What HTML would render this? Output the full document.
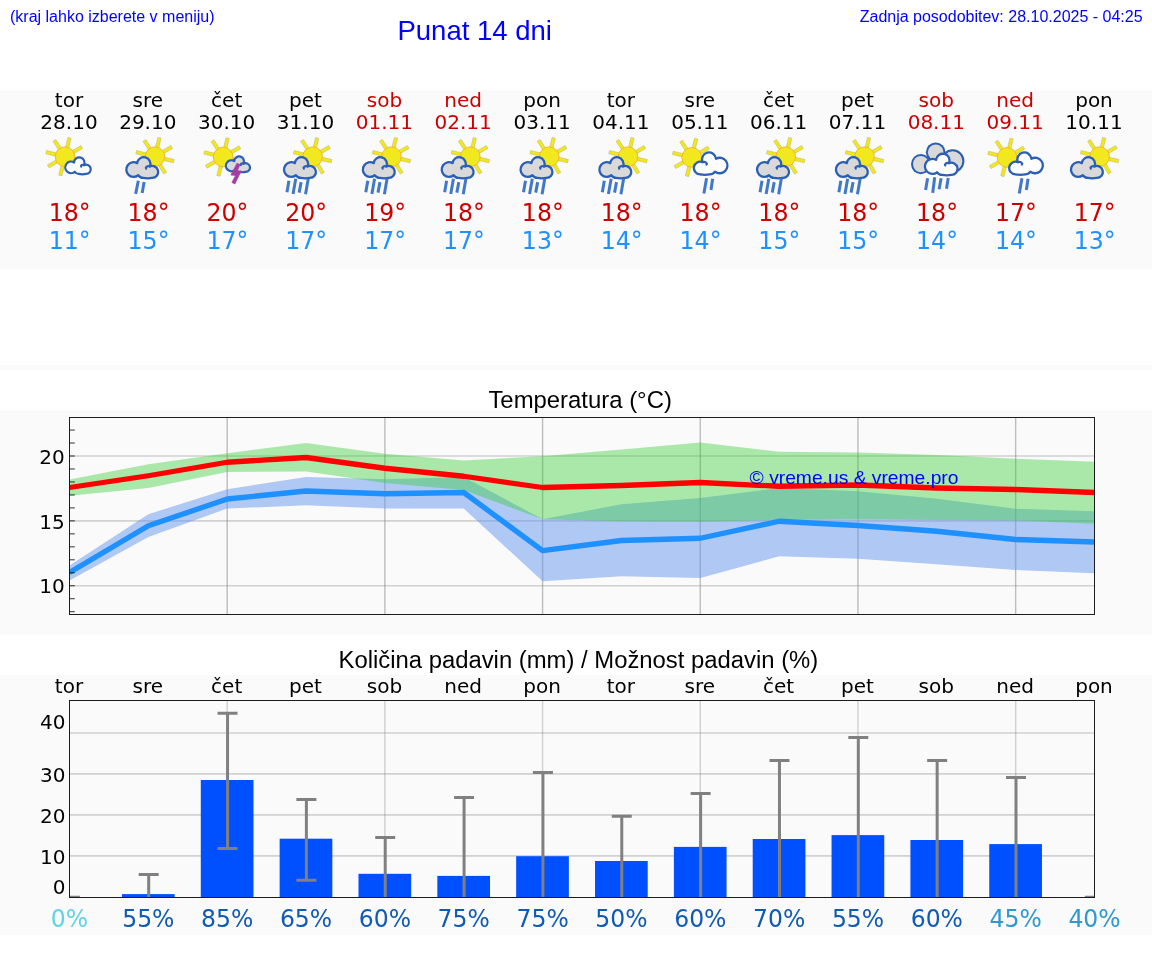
<!DOCTYPE html>
<html lang="sl"><head><meta charset="utf-8"><title>Punat 14 dni</title>
<style>
html,body{margin:0;padding:0;background:#fff;}
body{width:1152px;height:975px;overflow:hidden;}
svg{display:block;}
.dj{font-family:"DejaVu Sans","Liberation Sans",sans-serif;}
.lb{font-family:"Liberation Sans","DejaVu Sans",sans-serif;}
.m{text-anchor:middle;}
.e{text-anchor:end;}
</style></head><body>
<svg width="1152" height="975" viewBox="0 0 1152 975">
<defs>
<g id="sun"><rect x="9" y="-1.7" width="10.4" height="3.4" fill="#f1e81d" stroke="#a8a060" stroke-opacity="0.5" stroke-width="0.7" transform="rotate(-30)"/><rect x="9" y="-1.7" width="10.4" height="3.4" fill="#f1e81d" stroke="#a8a060" stroke-opacity="0.5" stroke-width="0.7" transform="rotate(13.3)"/><rect x="9" y="-1.7" width="10.4" height="3.4" fill="#f1e81d" stroke="#a8a060" stroke-opacity="0.5" stroke-width="0.7" transform="rotate(58.3)"/><rect x="9" y="-1.7" width="10.4" height="3.4" fill="#f1e81d" stroke="#a8a060" stroke-opacity="0.5" stroke-width="0.7" transform="rotate(104)"/><rect x="9" y="-1.7" width="10.4" height="3.4" fill="#f1e81d" stroke="#a8a060" stroke-opacity="0.5" stroke-width="0.7" transform="rotate(150)"/><rect x="9" y="-1.7" width="10.4" height="3.4" fill="#f1e81d" stroke="#a8a060" stroke-opacity="0.5" stroke-width="0.7" transform="rotate(-166.5)"/><rect x="9" y="-1.7" width="10.4" height="3.4" fill="#f1e81d" stroke="#a8a060" stroke-opacity="0.5" stroke-width="0.7" transform="rotate(-123)"/><rect x="9" y="-1.7" width="10.4" height="3.4" fill="#f1e81d" stroke="#a8a060" stroke-opacity="0.5" stroke-width="0.7" transform="rotate(-76.5)"/><circle r="9.8" fill="#f1e81d" stroke="#f7b02c" stroke-width="0.9"/></g>
<g id="cgB"><g transform="scale(1.0)"><path d="M13.02 19.26 A7.31 7.31 0 1 1 12.01 7.15 A6.64 6.64 0 1 1 24.70 10.45 A5.96 5.96 0 1 1 27.08 21.87 Q22.51 22.77 17.94 21.87 A5.96 5.96 0 0 1 13.02 19.26Z" fill="#d9d9d9" stroke="#2b5fb3" stroke-width="2.30" stroke-linejoin="round"/><path d="M24.70 10.45 Q22.2 9.4 20.7 11.7 L21.0 12.7" fill="none" stroke="#2b5fb3" stroke-width="2.18" stroke-linecap="round" stroke-linejoin="round"/></g></g>
<g id="cwBm"><g transform="translate(35.91,0) scale(-1.05,1.05)"><path d="M13.00 19.34 A7.37 7.37 0 1 1 11.97 7.06 A6.69 6.69 0 1 1 24.80 10.35 A6.01 6.01 0 1 1 27.08 21.92 Q22.51 22.82 17.94 21.92 A6.01 6.01 0 0 1 13.00 19.34Z" fill="#fdfdfd" stroke="#2b5fb3" stroke-width="2.19" stroke-linejoin="round"/><path d="M24.80 10.35 Q22.2 9.4 20.7 11.7 L21.0 12.7" fill="none" stroke="#2b5fb3" stroke-width="2.08" stroke-linecap="round" stroke-linejoin="round"/></g></g>
<g id="cwS"><g transform="scale(0.81)"><path d="M13.06 18.96 A7.11 7.11 0 1 1 12.20 7.50 A6.43 6.43 0 1 1 24.23 10.91 A5.75 5.75 0 1 1 27.08 21.66 Q22.51 22.56 17.94 21.66 A5.75 5.75 0 0 1 13.06 18.96Z" fill="#fdfdfd" stroke="#2b5fb3" stroke-width="2.72" stroke-linejoin="round"/><path d="M24.23 10.91 Q22.2 9.4 20.7 11.7 L21.0 12.7" fill="none" stroke="#2b5fb3" stroke-width="2.58" stroke-linecap="round" stroke-linejoin="round"/></g></g>
<g id="cgS"><g transform="scale(0.77)"><path d="M13.08 18.85 A7.03 7.03 0 1 1 12.26 7.62 A6.36 6.36 0 1 1 24.03 11.12 A5.68 5.68 0 1 1 27.08 21.59 Q22.51 22.49 17.94 21.59 A5.68 5.68 0 0 1 13.08 18.85Z" fill="#d9d9d9" stroke="#2b5fb3" stroke-width="2.86" stroke-linejoin="round"/><path d="M24.03 11.12 Q22.2 9.4 20.7 11.7 L21.0 12.7" fill="none" stroke="#2b5fb3" stroke-width="2.71" stroke-linecap="round" stroke-linejoin="round"/></g></g>
<g id="cwF"><g transform="scale(1.02)"><path d="M13.01 19.30 A7.34 7.34 0 1 1 11.99 7.11 A6.66 6.66 0 1 1 24.74 10.41 A5.98 5.98 0 1 1 27.08 21.89 Q22.51 22.79 17.94 21.89 A5.98 5.98 0 0 1 13.01 19.30Z" fill="#fdfdfd" stroke="#2b5fb3" stroke-width="2.25" stroke-linejoin="round"/><path d="M24.74 10.41 Q22.2 9.4 20.7 11.7 L21.0 12.7" fill="none" stroke="#2b5fb3" stroke-width="2.14" stroke-linecap="round" stroke-linejoin="round"/></g></g>
</defs>
<rect x="0" y="90" width="1152" height="179.6" fill="#fafafa"/>
<rect x="0" y="365" width="1152" height="5.0" fill="#fafafa"/>
<rect x="0" y="410" width="1152" height="224.6" fill="#fafafa"/>
<rect x="0" y="675" width="1152" height="260.0" fill="#fafafa"/>
<text class="lb" x="10" y="22" font-size="16" fill="#0000ff">(kraj lahko izberete v meniju)</text>
<text class="lb m" x="474.7" y="39.5" font-size="27.5" fill="#0000ff">Punat 14 dni</text>
<text class="lb e" x="1142.6" y="21.7" font-size="16" fill="#0000ff">Zadnja posodobitev: 28.10.2025 - 04:25</text>
<text class="dj m" x="69.0" y="106.7" font-size="20" fill="#000">tor</text>
<text class="dj m" x="69.0" y="129" font-size="20" fill="#000">28.10</text>
<text class="dj m" transform="translate(69.7,221) scale(0.985,1.03)" font-size="24" fill="#cc0000">18°</text>
<text class="dj m" transform="translate(69.7,249) scale(0.985,1.03)" font-size="24" fill="#1e90ff">11°</text>
<text class="dj m" x="147.8" y="106.7" font-size="20" fill="#000">sre</text>
<text class="dj m" x="147.8" y="129" font-size="20" fill="#000">29.10</text>
<text class="dj m" transform="translate(148.5,221) scale(0.985,1.03)" font-size="24" fill="#cc0000">18°</text>
<text class="dj m" transform="translate(148.5,249) scale(0.985,1.03)" font-size="24" fill="#1e90ff">15°</text>
<text class="dj m" x="226.7" y="106.7" font-size="20" fill="#000">čet</text>
<text class="dj m" x="226.7" y="129" font-size="20" fill="#000">30.10</text>
<text class="dj m" transform="translate(227.4,221) scale(0.985,1.03)" font-size="24" fill="#cc0000">20°</text>
<text class="dj m" transform="translate(227.4,249) scale(0.985,1.03)" font-size="24" fill="#1e90ff">17°</text>
<text class="dj m" x="305.5" y="106.7" font-size="20" fill="#000">pet</text>
<text class="dj m" x="305.5" y="129" font-size="20" fill="#000">31.10</text>
<text class="dj m" transform="translate(306.2,221) scale(0.985,1.03)" font-size="24" fill="#cc0000">20°</text>
<text class="dj m" transform="translate(306.2,249) scale(0.985,1.03)" font-size="24" fill="#1e90ff">17°</text>
<text class="dj m" x="384.4" y="106.7" font-size="20" fill="#cc0000">sob</text>
<text class="dj m" x="384.4" y="129" font-size="20" fill="#cc0000">01.11</text>
<text class="dj m" transform="translate(385.1,221) scale(0.985,1.03)" font-size="24" fill="#cc0000">19°</text>
<text class="dj m" transform="translate(385.1,249) scale(0.985,1.03)" font-size="24" fill="#1e90ff">17°</text>
<text class="dj m" x="463.2" y="106.7" font-size="20" fill="#cc0000">ned</text>
<text class="dj m" x="463.2" y="129" font-size="20" fill="#cc0000">02.11</text>
<text class="dj m" transform="translate(463.9,221) scale(0.985,1.03)" font-size="24" fill="#cc0000">18°</text>
<text class="dj m" transform="translate(463.9,249) scale(0.985,1.03)" font-size="24" fill="#1e90ff">17°</text>
<text class="dj m" x="542.1" y="106.7" font-size="20" fill="#000">pon</text>
<text class="dj m" x="542.1" y="129" font-size="20" fill="#000">03.11</text>
<text class="dj m" transform="translate(542.8,221) scale(0.985,1.03)" font-size="24" fill="#cc0000">18°</text>
<text class="dj m" transform="translate(542.8,249) scale(0.985,1.03)" font-size="24" fill="#1e90ff">13°</text>
<text class="dj m" x="620.9" y="106.7" font-size="20" fill="#000">tor</text>
<text class="dj m" x="620.9" y="129" font-size="20" fill="#000">04.11</text>
<text class="dj m" transform="translate(621.6,221) scale(0.985,1.03)" font-size="24" fill="#cc0000">18°</text>
<text class="dj m" transform="translate(621.6,249) scale(0.985,1.03)" font-size="24" fill="#1e90ff">14°</text>
<text class="dj m" x="699.8" y="106.7" font-size="20" fill="#000">sre</text>
<text class="dj m" x="699.8" y="129" font-size="20" fill="#000">05.11</text>
<text class="dj m" transform="translate(700.5,221) scale(0.985,1.03)" font-size="24" fill="#cc0000">18°</text>
<text class="dj m" transform="translate(700.5,249) scale(0.985,1.03)" font-size="24" fill="#1e90ff">14°</text>
<text class="dj m" x="778.6" y="106.7" font-size="20" fill="#000">čet</text>
<text class="dj m" x="778.6" y="129" font-size="20" fill="#000">06.11</text>
<text class="dj m" transform="translate(779.3,221) scale(0.985,1.03)" font-size="24" fill="#cc0000">18°</text>
<text class="dj m" transform="translate(779.3,249) scale(0.985,1.03)" font-size="24" fill="#1e90ff">15°</text>
<text class="dj m" x="857.5" y="106.7" font-size="20" fill="#000">pet</text>
<text class="dj m" x="857.5" y="129" font-size="20" fill="#000">07.11</text>
<text class="dj m" transform="translate(858.2,221) scale(0.985,1.03)" font-size="24" fill="#cc0000">18°</text>
<text class="dj m" transform="translate(858.2,249) scale(0.985,1.03)" font-size="24" fill="#1e90ff">15°</text>
<text class="dj m" x="936.3" y="106.7" font-size="20" fill="#cc0000">sob</text>
<text class="dj m" x="936.3" y="129" font-size="20" fill="#cc0000">08.11</text>
<text class="dj m" transform="translate(937.0,221) scale(0.985,1.03)" font-size="24" fill="#cc0000">18°</text>
<text class="dj m" transform="translate(937.0,249) scale(0.985,1.03)" font-size="24" fill="#1e90ff">14°</text>
<text class="dj m" x="1015.2" y="106.7" font-size="20" fill="#cc0000">ned</text>
<text class="dj m" x="1015.2" y="129" font-size="20" fill="#cc0000">09.11</text>
<text class="dj m" transform="translate(1015.9,221) scale(0.985,1.03)" font-size="24" fill="#cc0000">17°</text>
<text class="dj m" transform="translate(1015.9,249) scale(0.985,1.03)" font-size="24" fill="#1e90ff">14°</text>
<text class="dj m" x="1094.0" y="106.7" font-size="20" fill="#000">pon</text>
<text class="dj m" x="1094.0" y="129" font-size="20" fill="#000">10.11</text>
<text class="dj m" transform="translate(1094.7,221) scale(0.985,1.03)" font-size="24" fill="#cc0000">17°</text>
<text class="dj m" transform="translate(1094.7,249) scale(0.985,1.03)" font-size="24" fill="#1e90ff">13°</text>
<g transform="translate(69.50,0)"><use href="#sun" x="-4.5" y="156.7"/><use href="#cwS" x="-5.3" y="156.4"/></g>
<g transform="translate(148.35,0)"><use href="#sun" x="6.6" y="156.7"/><use href="#cgB" x="-23.2" y="156"/><line x1="-10.0" y1="180.7" x2="-12.7" y2="193.9" stroke="#4278c8" stroke-width="3"/><line x1="-4.2" y1="182.1" x2="-6.2" y2="192.9" stroke="#4278c8" stroke-width="3"/></g>
<g transform="translate(227.19,0)"><use href="#sun" x="-4.1" y="157"/><use href="#cgS" x="-2.4" y="155.3"/><polygon points="9.8,163.2 12.8,164.6 10.2,170.9 14.0,170.9 7.7,184.0 4.7,182.4 8.4,175.4 3.8,175.1" fill="#a33fa3" stroke="#a33fa3" stroke-width="0.7" stroke-linejoin="round"/></g>
<g transform="translate(306.04,0)"><use href="#sun" x="6.6" y="156.7"/><use href="#cgB" x="-23.2" y="156"/><line x1="-17.1" y1="180.7" x2="-19.1" y2="192.2" stroke="#4278c8" stroke-width="3"/><line x1="-10.3" y1="178.7" x2="-13.0" y2="193.9" stroke="#4278c8" stroke-width="3"/><line x1="-4.9" y1="182.1" x2="-6.9" y2="192.6" stroke="#4278c8" stroke-width="3"/><line x1="2.2" y1="178.7" x2="-0.5" y2="194.3" stroke="#4278c8" stroke-width="3"/></g>
<g transform="translate(384.88,0)"><use href="#sun" x="6.6" y="156.7"/><use href="#cgB" x="-23.2" y="156"/><line x1="-17.1" y1="180.7" x2="-19.1" y2="192.2" stroke="#4278c8" stroke-width="3"/><line x1="-10.3" y1="178.7" x2="-13.0" y2="193.9" stroke="#4278c8" stroke-width="3"/><line x1="-4.9" y1="182.1" x2="-6.9" y2="192.6" stroke="#4278c8" stroke-width="3"/><line x1="2.2" y1="178.7" x2="-0.5" y2="194.3" stroke="#4278c8" stroke-width="3"/></g>
<g transform="translate(463.73,0)"><use href="#sun" x="6.6" y="156.7"/><use href="#cgB" x="-23.2" y="156"/><line x1="-17.1" y1="180.7" x2="-19.1" y2="192.2" stroke="#4278c8" stroke-width="3"/><line x1="-10.3" y1="178.7" x2="-13.0" y2="193.9" stroke="#4278c8" stroke-width="3"/><line x1="-4.9" y1="182.1" x2="-6.9" y2="192.6" stroke="#4278c8" stroke-width="3"/><line x1="2.2" y1="178.7" x2="-0.5" y2="194.3" stroke="#4278c8" stroke-width="3"/></g>
<g transform="translate(542.58,0)"><use href="#sun" x="6.6" y="156.7"/><use href="#cgB" x="-23.2" y="156"/><line x1="-17.1" y1="180.7" x2="-19.1" y2="192.2" stroke="#4278c8" stroke-width="3"/><line x1="-10.3" y1="178.7" x2="-13.0" y2="193.9" stroke="#4278c8" stroke-width="3"/><line x1="-4.9" y1="182.1" x2="-6.9" y2="192.6" stroke="#4278c8" stroke-width="3"/><line x1="2.2" y1="178.7" x2="-0.5" y2="194.3" stroke="#4278c8" stroke-width="3"/></g>
<g transform="translate(621.42,0)"><use href="#sun" x="6.6" y="156.7"/><use href="#cgB" x="-23.2" y="156"/><line x1="-17.1" y1="180.7" x2="-19.1" y2="192.2" stroke="#4278c8" stroke-width="3"/><line x1="-10.3" y1="178.7" x2="-13.0" y2="193.9" stroke="#4278c8" stroke-width="3"/><line x1="-4.9" y1="182.1" x2="-6.9" y2="192.6" stroke="#4278c8" stroke-width="3"/><line x1="2.2" y1="178.7" x2="-0.5" y2="194.3" stroke="#4278c8" stroke-width="3"/></g>
<g transform="translate(700.27,0)"><use href="#sun" x="-8.6" y="157.4"/><use href="#cwBm" x="-7.6" y="151.3"/><line x1="6.3" y1="178.3" x2="3.6" y2="193.6" stroke="#4278c8" stroke-width="3"/><line x1="12.4" y1="178.7" x2="10.7" y2="189.9" stroke="#4278c8" stroke-width="3"/></g>
<g transform="translate(779.12,0)"><use href="#sun" x="6.6" y="156.7"/><use href="#cgB" x="-23.2" y="156"/><line x1="-17.1" y1="180.7" x2="-19.1" y2="192.2" stroke="#4278c8" stroke-width="3"/><line x1="-10.3" y1="178.7" x2="-13.0" y2="193.9" stroke="#4278c8" stroke-width="3"/><line x1="-4.9" y1="182.1" x2="-6.9" y2="192.6" stroke="#4278c8" stroke-width="3"/><line x1="2.2" y1="178.7" x2="-0.5" y2="194.3" stroke="#4278c8" stroke-width="3"/></g>
<g transform="translate(857.96,0)"><use href="#sun" x="6.6" y="156.7"/><use href="#cgB" x="-23.2" y="156"/><line x1="-17.1" y1="180.7" x2="-19.1" y2="192.2" stroke="#4278c8" stroke-width="3"/><line x1="-10.3" y1="178.7" x2="-13.0" y2="193.9" stroke="#4278c8" stroke-width="3"/><line x1="-4.9" y1="182.1" x2="-6.9" y2="192.6" stroke="#4278c8" stroke-width="3"/><line x1="2.2" y1="178.7" x2="-0.5" y2="194.3" stroke="#4278c8" stroke-width="3"/></g>
<g transform="translate(936.81,0)"><ellipse cx="-16.0" cy="164.1" rx="9.8" ry="10.2" fill="#2a5db0"/><ellipse cx="-1.1" cy="152.3" rx="9.8" ry="9.8" fill="#2a5db0"/><ellipse cx="15.8" cy="161.1" rx="11.8" ry="11.8" fill="#2a5db0"/><ellipse cx="-16.0" cy="164.1" rx="7.800000000000001" ry="8.2" fill="#d9d9d9"/><ellipse cx="-1.1" cy="152.3" rx="7.800000000000001" ry="7.800000000000001" fill="#d9d9d9"/><ellipse cx="15.8" cy="161.1" rx="9.8" ry="9.8" fill="#d9d9d9"/><use href="#cwF" x="-13" y="152.6"/><line x1="-9.2" y1="178.3" x2="-11.2" y2="189.9" stroke="#4278c8" stroke-width="3"/><line x1="-2.1" y1="177.3" x2="-4.1" y2="192.9" stroke="#4278c8" stroke-width="3"/><line x1="4.3" y1="178.3" x2="2.3" y2="189.2" stroke="#4278c8" stroke-width="3"/><line x1="11.4" y1="178.0" x2="9.7" y2="188.8" stroke="#4278c8" stroke-width="3"/></g>
<g transform="translate(1015.65,0)"><use href="#sun" x="-8.6" y="157.4"/><use href="#cwBm" x="-7.6" y="151.3"/><line x1="6.3" y1="178.3" x2="3.6" y2="193.6" stroke="#4278c8" stroke-width="3"/><line x1="12.4" y1="178.7" x2="10.7" y2="189.9" stroke="#4278c8" stroke-width="3"/></g>
<g transform="translate(1093.00,0)"><use href="#sun" x="6.6" y="156.7"/><use href="#cgB" x="-23.2" y="156"/></g>
<text class="lb m" x="580.15" y="407.8" font-size="23.9" fill="#000">Temperatura (°C)</text>
<line x1="69.5" x2="1094.5" y1="585.75" y2="585.75" stroke="#b0b0b0" stroke-opacity="0.55" stroke-width="1.7"/>
<line x1="69.5" x2="1094.5" y1="520.88" y2="520.88" stroke="#b0b0b0" stroke-opacity="0.55" stroke-width="1.7"/>
<line x1="69.5" x2="1094.5" y1="456.00" y2="456.00" stroke="#b0b0b0" stroke-opacity="0.55" stroke-width="1.7"/>
<line x1="227.19" x2="227.19" y1="417.5" y2="614.5" stroke="#808080" stroke-opacity="0.5" stroke-width="1.4"/>
<line x1="384.88" x2="384.88" y1="417.5" y2="614.5" stroke="#808080" stroke-opacity="0.5" stroke-width="1.4"/>
<line x1="542.58" x2="542.58" y1="417.5" y2="614.5" stroke="#808080" stroke-opacity="0.5" stroke-width="1.4"/>
<line x1="700.27" x2="700.27" y1="417.5" y2="614.5" stroke="#808080" stroke-opacity="0.5" stroke-width="1.4"/>
<line x1="857.96" x2="857.96" y1="417.5" y2="614.5" stroke="#808080" stroke-opacity="0.5" stroke-width="1.4"/>
<line x1="1015.65" x2="1015.65" y1="417.5" y2="614.5" stroke="#808080" stroke-opacity="0.5" stroke-width="1.4"/>
<polygon points="69.50,565.50 148.35,514.25 227.19,489.25 306.04,477.00 384.88,479.25 463.73,477.00 542.58,519.25 621.42,504.25 700.27,498.00 779.12,488.00 857.96,491.25 936.81,498.75 1015.65,508.75 1094.50,511.25 1094.50,573.25 1015.65,570.00 936.81,564.25 857.96,558.75 779.12,556.25 700.27,578.00 621.42,576.25 542.58,581.25 463.73,508.50 384.88,508.50 306.04,505.30 227.19,508.50 148.35,537.00 69.50,580.50" fill="#6495ed" fill-opacity="0.5"/>
<polygon points="69.50,479.50 148.35,464.25 227.19,453.25 306.04,443.00 384.88,453.75 463.73,460.50 542.58,456.25 621.42,449.50 700.27,442.50 779.12,451.75 857.96,452.50 936.81,455.00 1015.65,458.75 1094.50,461.75 1094.50,523.75 1015.65,520.50 936.81,520.00 857.96,519.25 779.12,520.00 700.27,521.75 621.42,521.25 542.58,519.25 463.73,490.00 384.88,483.00 306.04,471.50 227.19,472.00 148.35,488.00 69.50,495.75" fill="#32cd32" fill-opacity="0.4"/>
<clipPath id="tc"><rect x="69.5" y="417.5" width="1025" height="197"/></clipPath>
<g clip-path="url(#tc)"><polyline points="69.50,572.50 148.35,525.75 227.19,499.00 306.04,491.00 384.88,493.75 463.73,492.50 542.58,550.60 621.42,540.50 700.27,538.25 779.12,521.25 857.96,525.50 936.81,531.25 1015.65,539.50 1094.50,542.00" fill="none" stroke="#1e90ff" stroke-width="5.3" stroke-linejoin="round"/><polyline points="69.50,487.50 148.35,475.75 227.19,462.25 306.04,457.50 384.88,468.25 463.73,476.25 542.58,487.50 621.42,485.50 700.27,482.50 779.12,486.25 857.96,485.00 936.81,488.00 1015.65,489.50 1094.50,492.50" fill="none" stroke="#ff0000" stroke-width="5.3" stroke-linejoin="round"/></g>
<rect x="69.5" y="417.5" width="1025" height="197.0" fill="none" stroke="#1c1c1c" stroke-width="1"/>
<line x1="69.5" x2="74.8" y1="611.70" y2="611.70" stroke="#000" stroke-width="0.8"/>
<line x1="69.5" x2="74.8" y1="598.73" y2="598.73" stroke="#000" stroke-width="0.8"/>
<line x1="69.5" x2="74.8" y1="585.75" y2="585.75" stroke="#000" stroke-width="0.8"/>
<line x1="69.5" x2="74.8" y1="572.77" y2="572.77" stroke="#000" stroke-width="0.8"/>
<line x1="69.5" x2="74.8" y1="559.80" y2="559.80" stroke="#000" stroke-width="0.8"/>
<line x1="69.5" x2="74.8" y1="546.83" y2="546.83" stroke="#000" stroke-width="0.8"/>
<line x1="69.5" x2="74.8" y1="533.85" y2="533.85" stroke="#000" stroke-width="0.8"/>
<line x1="69.5" x2="74.8" y1="520.88" y2="520.88" stroke="#000" stroke-width="0.8"/>
<line x1="69.5" x2="74.8" y1="507.90" y2="507.90" stroke="#000" stroke-width="0.8"/>
<line x1="69.5" x2="74.8" y1="494.93" y2="494.93" stroke="#000" stroke-width="0.8"/>
<line x1="69.5" x2="74.8" y1="481.95" y2="481.95" stroke="#000" stroke-width="0.8"/>
<line x1="69.5" x2="74.8" y1="468.98" y2="468.98" stroke="#000" stroke-width="0.8"/>
<line x1="69.5" x2="74.8" y1="456.00" y2="456.00" stroke="#000" stroke-width="0.8"/>
<line x1="69.5" x2="74.8" y1="443.02" y2="443.02" stroke="#000" stroke-width="0.8"/>
<line x1="69.5" x2="74.8" y1="430.05" y2="430.05" stroke="#000" stroke-width="0.8"/>
<text class="dj e" x="64.8" y="593.4" font-size="20" fill="#000">10</text>
<text class="dj e" x="64.8" y="528.5" font-size="20" fill="#000">15</text>
<text class="dj e" x="64.8" y="463.6" font-size="20" fill="#000">20</text>
<text class="lb" x="749.6" y="483.9" font-size="19.25" fill="#0000ff">© vreme.us &amp; vreme.pro</text>
<text class="lb m" x="578.4" y="667.6" font-size="23.85" fill="#000">Količina padavin (mm) / Možnost padavin (%)</text>
<text class="dj m" x="69.0" y="693" font-size="20" fill="#000">tor</text>
<text class="dj m" x="147.8" y="693" font-size="20" fill="#000">sre</text>
<text class="dj m" x="226.7" y="693" font-size="20" fill="#000">čet</text>
<text class="dj m" x="305.5" y="693" font-size="20" fill="#000">pet</text>
<text class="dj m" x="384.4" y="693" font-size="20" fill="#000">sob</text>
<text class="dj m" x="463.2" y="693" font-size="20" fill="#000">ned</text>
<text class="dj m" x="542.1" y="693" font-size="20" fill="#000">pon</text>
<text class="dj m" x="620.9" y="693" font-size="20" fill="#000">tor</text>
<text class="dj m" x="699.8" y="693" font-size="20" fill="#000">sre</text>
<text class="dj m" x="778.6" y="693" font-size="20" fill="#000">čet</text>
<text class="dj m" x="857.5" y="693" font-size="20" fill="#000">pet</text>
<text class="dj m" x="936.3" y="693" font-size="20" fill="#000">sob</text>
<text class="dj m" x="1015.2" y="693" font-size="20" fill="#000">ned</text>
<text class="dj m" x="1094.0" y="693" font-size="20" fill="#000">pon</text>
<line x1="69.5" x2="1094.5" y1="733" y2="733" stroke="#b0b0b0" stroke-opacity="0.55" stroke-width="1.7"/>
<line x1="69.5" x2="1094.5" y1="773.9" y2="773.9" stroke="#b0b0b0" stroke-opacity="0.55" stroke-width="1.7"/>
<line x1="69.5" x2="1094.5" y1="814.8" y2="814.8" stroke="#b0b0b0" stroke-opacity="0.55" stroke-width="1.7"/>
<line x1="69.5" x2="1094.5" y1="855.8" y2="855.8" stroke="#b0b0b0" stroke-opacity="0.55" stroke-width="1.7"/>
<line x1="227.19" x2="227.19" y1="700.5" y2="897.5" stroke="#808080" stroke-opacity="0.35" stroke-width="1.4"/>
<line x1="384.88" x2="384.88" y1="700.5" y2="897.5" stroke="#808080" stroke-opacity="0.35" stroke-width="1.4"/>
<line x1="542.58" x2="542.58" y1="700.5" y2="897.5" stroke="#808080" stroke-opacity="0.35" stroke-width="1.4"/>
<line x1="700.27" x2="700.27" y1="700.5" y2="897.5" stroke="#808080" stroke-opacity="0.35" stroke-width="1.4"/>
<line x1="857.96" x2="857.96" y1="700.5" y2="897.5" stroke="#808080" stroke-opacity="0.35" stroke-width="1.4"/>
<line x1="1015.65" x2="1015.65" y1="700.5" y2="897.5" stroke="#808080" stroke-opacity="0.35" stroke-width="1.4"/>
<clipPath id="pc"><rect x="69.5" y="700.5" width="1025" height="197.0"/></clipPath><g clip-path="url(#pc)">
<rect x="121.95" y="894.1" width="52.7" height="3.4" fill="#0050ff"/>
<rect x="200.79" y="780" width="52.7" height="117.5" fill="#0050ff"/>
<rect x="279.64" y="838.7" width="52.7" height="58.8" fill="#0050ff"/>
<rect x="358.48" y="873.8" width="52.7" height="23.7" fill="#0050ff"/>
<rect x="437.33" y="875.9" width="52.7" height="21.6" fill="#0050ff"/>
<rect x="516.18" y="856.2" width="52.7" height="41.3" fill="#0050ff"/>
<rect x="595.02" y="861" width="52.7" height="36.5" fill="#0050ff"/>
<rect x="673.87" y="846.9" width="52.7" height="50.6" fill="#0050ff"/>
<rect x="752.72" y="839" width="52.7" height="58.5" fill="#0050ff"/>
<rect x="831.56" y="835.1" width="52.7" height="62.4" fill="#0050ff"/>
<rect x="910.41" y="840" width="52.7" height="57.5" fill="#0050ff"/>
<rect x="989.25" y="844.1" width="52.7" height="53.4" fill="#0050ff"/>
<line x1="69.85" x2="69.85" y1="897.3" y2="902.5" stroke="#808080" stroke-width="3"/>
<line x1="59.85" x2="79.85" y1="897.3" y2="897.3" stroke="#808080" stroke-width="3"/>
<line x1="148.70" x2="148.70" y1="874.4" y2="902.5" stroke="#808080" stroke-width="3"/>
<line x1="138.70" x2="158.70" y1="874.4" y2="874.4" stroke="#808080" stroke-width="3"/>
<line x1="227.54" x2="227.54" y1="713.3" y2="848.5" stroke="#808080" stroke-width="3"/>
<line x1="217.54" x2="237.54" y1="713.3" y2="713.3" stroke="#808080" stroke-width="3"/>
<line x1="217.54" x2="237.54" y1="848.5" y2="848.5" stroke="#808080" stroke-width="3"/>
<line x1="306.39" x2="306.39" y1="799.5" y2="880.3" stroke="#808080" stroke-width="3"/>
<line x1="296.39" x2="316.39" y1="799.5" y2="799.5" stroke="#808080" stroke-width="3"/>
<line x1="296.39" x2="316.39" y1="880.3" y2="880.3" stroke="#808080" stroke-width="3"/>
<line x1="385.23" x2="385.23" y1="837.4" y2="902.5" stroke="#808080" stroke-width="3"/>
<line x1="375.23" x2="395.23" y1="837.4" y2="837.4" stroke="#808080" stroke-width="3"/>
<line x1="464.08" x2="464.08" y1="797.4" y2="902.5" stroke="#808080" stroke-width="3"/>
<line x1="454.08" x2="474.08" y1="797.4" y2="797.4" stroke="#808080" stroke-width="3"/>
<line x1="542.93" x2="542.93" y1="772.6" y2="902.5" stroke="#808080" stroke-width="3"/>
<line x1="532.93" x2="552.93" y1="772.6" y2="772.6" stroke="#808080" stroke-width="3"/>
<line x1="621.77" x2="621.77" y1="816.3" y2="902.5" stroke="#808080" stroke-width="3"/>
<line x1="611.77" x2="631.77" y1="816.3" y2="816.3" stroke="#808080" stroke-width="3"/>
<line x1="700.62" x2="700.62" y1="793.6" y2="902.5" stroke="#808080" stroke-width="3"/>
<line x1="690.62" x2="710.62" y1="793.6" y2="793.6" stroke="#808080" stroke-width="3"/>
<line x1="779.47" x2="779.47" y1="760.5" y2="902.5" stroke="#808080" stroke-width="3"/>
<line x1="769.47" x2="789.47" y1="760.5" y2="760.5" stroke="#808080" stroke-width="3"/>
<line x1="858.31" x2="858.31" y1="737.4" y2="902.5" stroke="#808080" stroke-width="3"/>
<line x1="848.31" x2="868.31" y1="737.4" y2="737.4" stroke="#808080" stroke-width="3"/>
<line x1="937.16" x2="937.16" y1="760.5" y2="902.5" stroke="#808080" stroke-width="3"/>
<line x1="927.16" x2="947.16" y1="760.5" y2="760.5" stroke="#808080" stroke-width="3"/>
<line x1="1016.00" x2="1016.00" y1="777.4" y2="902.5" stroke="#808080" stroke-width="3"/>
<line x1="1006.00" x2="1026.00" y1="777.4" y2="777.4" stroke="#808080" stroke-width="3"/>
<line x1="1094.85" x2="1094.85" y1="897.3" y2="902.5" stroke="#808080" stroke-width="3"/>
<line x1="1084.85" x2="1104.85" y1="897.3" y2="897.3" stroke="#808080" stroke-width="3"/>
</g>
<rect x="69.5" y="700.5" width="1025" height="197.0" fill="none" stroke="#1c1c1c" stroke-width="1"/>
<text class="dj e" x="65.4" y="728.6" font-size="20" fill="#000">40</text>
<text class="dj e" x="65.4" y="782" font-size="20" fill="#000">30</text>
<text class="dj e" x="65.4" y="822.9" font-size="20" fill="#000">20</text>
<text class="dj e" x="65.4" y="863.9" font-size="20" fill="#000">10</text>
<text class="dj e" x="65.4" y="893.6" font-size="20" fill="#000">0</text>
<text class="dj m" transform="translate(69.5,927.2) scale(0.98,1.03)" font-size="24" fill="#5fd3e8">0%</text>
<text class="dj m" transform="translate(148.3,927.2) scale(0.98,1.03)" font-size="24" fill="#115ab2">55%</text>
<text class="dj m" transform="translate(227.2,927.2) scale(0.98,1.03)" font-size="24" fill="#115ab2">85%</text>
<text class="dj m" transform="translate(306.0,927.2) scale(0.98,1.03)" font-size="24" fill="#115ab2">65%</text>
<text class="dj m" transform="translate(384.9,927.2) scale(0.98,1.03)" font-size="24" fill="#115ab2">60%</text>
<text class="dj m" transform="translate(463.7,927.2) scale(0.98,1.03)" font-size="24" fill="#115ab2">75%</text>
<text class="dj m" transform="translate(542.6,927.2) scale(0.98,1.03)" font-size="24" fill="#115ab2">75%</text>
<text class="dj m" transform="translate(621.4,927.2) scale(0.98,1.03)" font-size="24" fill="#115ab2">50%</text>
<text class="dj m" transform="translate(700.3,927.2) scale(0.98,1.03)" font-size="24" fill="#115ab2">60%</text>
<text class="dj m" transform="translate(779.1,927.2) scale(0.98,1.03)" font-size="24" fill="#115ab2">70%</text>
<text class="dj m" transform="translate(858.0,927.2) scale(0.98,1.03)" font-size="24" fill="#115ab2">55%</text>
<text class="dj m" transform="translate(936.8,927.2) scale(0.98,1.03)" font-size="24" fill="#115ab2">60%</text>
<text class="dj m" transform="translate(1015.7,927.2) scale(0.98,1.03)" font-size="24" fill="#2f98d0">45%</text>
<text class="dj m" transform="translate(1094.5,927.2) scale(0.98,1.03)" font-size="24" fill="#2f98d0">40%</text>
</svg></body></html>
